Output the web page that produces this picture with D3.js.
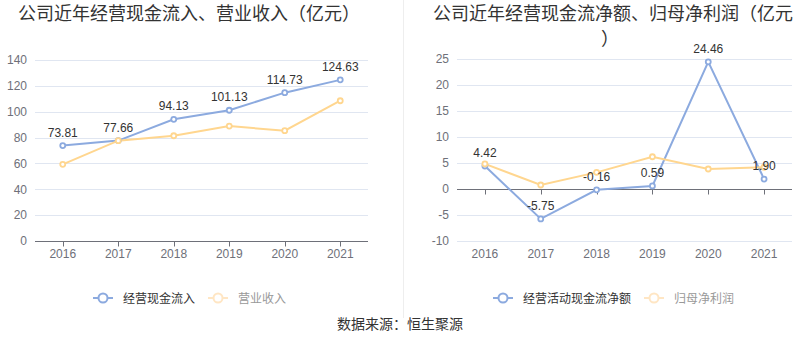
<!DOCTYPE html>
<html><head><meta charset="utf-8">
<script src="https://cdn.jsdelivr.net/npm/d3@7"></script>
<style>
html,body{margin:0;padding:0;background:#fff;}
svg{display:block;font-family:"Liberation Sans","Noto Sans CJK SC",sans-serif;}
</style></head>
<body><svg id="c" width="800" height="358"></svg>
<script>
const years = ["2016","2017","2018","2019","2020","2021"];
const cashInflow = [73.81, 77.66, 94.13, 101.13, 114.73, 124.63];
const revenue = [59.3, 77.6, 81.4, 88.9, 85.3, 108.5];
const netCashFlow = [4.42, -5.75, -0.16, 0.59, 24.46, 1.90];
const netProfit = [4.82, 0.77, 3.2, 6.2, 3.85, 4.18];
const leftTicks = [0,20,40,60,80,100,120,140];
const rightTicks = [-10,-5,0,5,10,15,20,25];

const BLUE = "#8caadf", YELLOW = "#ffd68f";
const svg = d3.select("#c");

function panel(o){
  const x = d3.scaleBand().domain(years).range([o.x0, o.x1]).padding(0);
  const y = d3.scaleLinear().domain(o.dom).range([o.yb, o.yt]);
  const g = svg.append("g");
  g.selectAll(".grid").data(o.ticks.filter(t=>t!==0)).join("line")
    .attr("x1", o.x0).attr("x2", o.x1)
    .attr("y1", d=>Math.round(y(d))+0.5).attr("y2", d=>Math.round(y(d))+0.5)
    .attr("stroke", "#e0e6f1").attr("stroke-width", 1);
  const ya = d3.axisLeft(y).tickValues(o.ticks).tickSize(0).tickPadding(8).tickFormat(d=>String(d));
  const yg = g.append("g").attr("transform", `translate(${o.x0},0)`).call(ya);
  yg.select(".domain").remove();
  yg.selectAll("text").attr("fill", "#6e7079").attr("font-size", 12).attr("font-family", "Liberation Sans, sans-serif");
  const zy = Math.round(y(0))+0.5;
  g.append("line").attr("x1", o.x0).attr("x2", o.x1).attr("y1", zy).attr("y2", zy)
    .attr("stroke", "#6e7079").attr("stroke-width", 1);
  g.selectAll(".tk").data(years).join("line")
    .attr("x1", d=>Math.round(x(d)+x.bandwidth()/2)+0.5).attr("x2", d=>Math.round(x(d)+x.bandwidth()/2)+0.5)
    .attr("y1", zy).attr("y2", zy+5).attr("stroke", "#6e7079");
  g.selectAll(".xl").data(years).join("text")
    .attr("x", d=>x(d)+x.bandwidth()/2).attr("y", o.yb+17)
    .attr("text-anchor", "middle").attr("fill", "#6e7079").attr("font-size", 12).text(d=>d);
  const cx = (d,i)=>x(years[i])+x.bandwidth()/2;
  const line = d3.line().x(cx).y(d=>y(d));
  g.append("path").datum(o.a).attr("d", line).attr("fill","none").attr("stroke", BLUE).attr("stroke-width", 2);
  g.append("path").datum(o.b).attr("d", line).attr("fill","none").attr("stroke", YELLOW).attr("stroke-width", 2);
  g.selectAll(".ma").data(o.a).join("circle").attr("cx", cx).attr("cy", d=>y(d)).attr("r", 2.5)
    .attr("fill","#fff").attr("stroke", BLUE).attr("stroke-width", 1.8);
  g.selectAll(".mb").data(o.b).join("circle").attr("cx", cx).attr("cy", d=>y(d)).attr("r", 2.5)
    .attr("fill","#fff").attr("stroke", YELLOW).attr("stroke-width", 1.8);
  g.selectAll(".lb").data(o.a).join("text").attr("x", cx).attr("y", d=>y(d)-9)
    .attr("text-anchor","middle").attr("fill","#333").attr("font-size", 12).text(d=>d.toFixed(2));
  o.title.forEach(t=>{
    svg.append("text").attr("x", t.x).attr("y", t.y).attr("fill","#333")
      .attr("font-size", 18).attr("font-family","Noto Sans CJK SC, sans-serif").text(t.s);
  });
  let lx = o.legX;
  o.legend.forEach(l=>{
    const ly = 298;
    svg.append("line").attr("x1", lx).attr("x2", lx+20).attr("y1", ly).attr("y2", ly).attr("stroke", l.c).attr("stroke-width", 2);
    svg.append("circle").attr("cx", lx+10).attr("cy", ly).attr("r", 4.5).attr("fill","#fff").attr("stroke", l.c).attr("stroke-width", 2);
    const t = svg.append("text").attr("x", lx+30).attr("y", ly+4.5).attr("fill", l.tc).attr("font-size", 12)
      .attr("font-family","Noto Sans CJK SC, sans-serif").text(l.s);
    lx += 30 + t.node().getComputedTextLength() + 13;
  });
}

panel({x0:35, x1:368, yb:241, yt:60, dom:[0,140], ticks:leftTicks, a:cashInflow, b:revenue,
  title:[{x:18, y:20, s:"公司近年经营现金流入、营业收入（亿元）"}],
  legX:93, legend:[{s:"经营现金流入", c:BLUE, tc:"#333"},{s:"营业收入", c:"#ffe6c4", tc:"#999"}]});
panel({x0:457, x1:792, yb:241, yt:59, dom:[-10,25], ticks:rightTicks, a:netCashFlow, b:netProfit,
  title:[{x:433, y:20, s:"公司近年经营现金流净额、归母净利润（亿元"},{x:601, y:45, s:"）"}],
  legX:493, legend:[{s:"经营活动现金流净额", c:BLUE, tc:"#333"},{s:"归母净利润", c:"#ffe6c4", tc:"#999"}]});

svg.append("line").attr("x1", 403.5).attr("x2", 403.5).attr("y1", 0).attr("y2", 318).attr("stroke", "#eeeeee");
svg.append("text").attr("x", 400).attr("y", 329).attr("text-anchor","middle").attr("fill","#333")
  .attr("font-size", 14).attr("font-family","Noto Sans CJK SC, sans-serif").text("数据来源：恒生聚源");
</script></body></html>
